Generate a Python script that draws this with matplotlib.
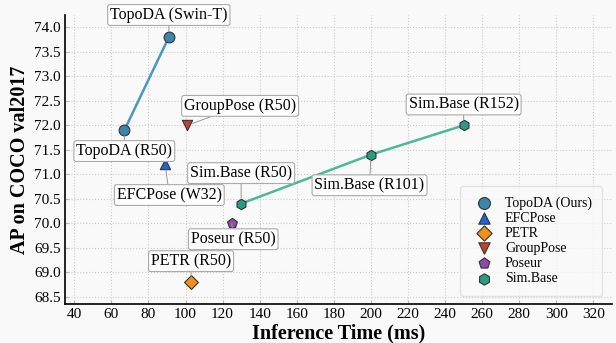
import matplotlib
matplotlib.use("Agg")
import matplotlib.pyplot as plt

plt.rcParams['font.family'] = ['Liberation Serif', 'DejaVu Serif']

# data
topoda_x = [67, 91]
topoda_y = [71.9, 73.8]
topoda_labels = ["TopoDA (R50)", "TopoDA (Swin-T)"]

efcpose_x = [89]
efcpose_y = [71.2]
efcpose_labels = ["EFCPose (W32)"]

petr_x = [103]
petr_y = [68.8]
petr_labels = ["PETR (R50)"]

grouppose_x = [101]
grouppose_y = [72.0]
grouppose_labels = ["GroupPose (R50)"]

poseur_x = [125]
poseur_y = [70.0]
poseur_labels = ["Poseur (R50)"]

simbase_x = [130, 200, 250]
simbase_y = [70.4, 71.4, 72.0]
simbase_labels = ["Sim.Base (R50)", "Sim.Base (R101)", "Sim.Base (R152)"]

x_ticks = list(range(40, 321, 20))
y_ticks = [68.5, 69.0, 69.5, 70.0, 70.5, 71.0, 71.5, 72.0, 72.5, 73.0, 73.5, 74.0]

bg = "#f9f9f9"
fig = plt.figure(figsize=(6.16, 3.43), dpi=100, facecolor=bg)
ax = fig.add_axes([0.1055, 0.1137, 0.888, 0.842], facecolor=bg)

# lines
ax.plot(topoda_x, topoda_y, color="#4a98c2", lw=1.8, zorder=2)
ax.plot(simbase_x, simbase_y, color="#4db89a", lw=1.8, zorder=2)

mk = dict(edgecolors="#333333", linewidths=0.8, zorder=3)
ax.scatter(topoda_x, topoda_y, marker="o", s=60, color="#3a86ad", label="TopoDA (Ours)", **mk)
ax.scatter(efcpose_x, efcpose_y, marker="^", s=55, color="#1f66d1", label="EFCPose", **mk)
ax.scatter(petr_x, petr_y, marker="D", s=50, color="#f0901a", label="PETR", **mk)
ax.scatter(grouppose_x, grouppose_y, marker="v", s=55, color="#c0432b", label="GroupPose", **mk)
ax.scatter(poseur_x, poseur_y, marker="p", s=55, color="#8e4aa8", label="Poseur", **mk)
ax.scatter(simbase_x, simbase_y, marker="h", s=55, color="#2a9d80", label="Sim.Base", **mk)

box = dict(boxstyle="round,pad=0.15", fc="white", ec="#aaaaaa", lw=0.8)
arrow = dict(arrowstyle="-", color="#999999", lw=0.7, shrinkA=0, shrinkB=4)


def label(x, y, text, dx, dy):
    ax.annotate(text, (x, y), xytext=(dx, dy), textcoords="offset points",
                ha="center", va="center", fontsize=11.5, bbox=box,
                arrowprops=arrow, zorder=4, annotation_clip=False)


label(topoda_x[0], topoda_y[0], topoda_labels[0], 0, -15)
label(topoda_x[1], topoda_y[1], topoda_labels[1], 0, 16)
label(efcpose_x[0], efcpose_y[0], efcpose_labels[0], 3, -22)
label(petr_x[0], petr_y[0], petr_labels[0], 0, 15)
label(grouppose_x[0], grouppose_y[0], grouppose_labels[0], 38, 14)
label(poseur_x[0], poseur_y[0], poseur_labels[0], 1, -11.5)
label(simbase_x[0], simbase_y[0], simbase_labels[0], 0, 22)
label(simbase_x[1], simbase_y[1], simbase_labels[1], -1, -22)
label(simbase_x[2], simbase_y[2], simbase_labels[2], 0, 15)

ax.set_xlim(35, 330)
ax.set_ylim(68.35, 74.25)
ax.set_xticks(x_ticks)
ax.set_yticks(y_ticks)
ax.set_yticklabels([f"{v:.1f}" for v in y_ticks])
ax.tick_params(labelsize=11, direction="in", length=3, color="#bbbbbb", pad=3)
ax.grid(True, ls=":", color="#cccccc", lw=0.8)
ax.set_axisbelow(True)
for s in ["top", "right"]:
    ax.spines[s].set_visible(False)
for s in ["left", "bottom"]:
    ax.spines[s].set_color("black")
    ax.spines[s].set_linewidth(1.2)

ax.set_xlabel("Inference Time (ms)", fontsize=14.5, fontweight="bold", labelpad=2)
ax.set_ylabel("AP on COCO val2017", fontsize=14.5, fontweight="bold", labelpad=3)

leg = ax.legend(loc="lower right", fontsize=10, frameon=True, fancybox=True,
                borderpad=0.75, labelspacing=0.15, handletextpad=0.5,
                markerscale=1.1, bbox_to_anchor=(0.995, 0.005))
leg.get_frame().set_edgecolor("#dddddd")
leg.get_frame().set_facecolor(bg)

fig.savefig("out.png", dpi=100, facecolor=bg)
